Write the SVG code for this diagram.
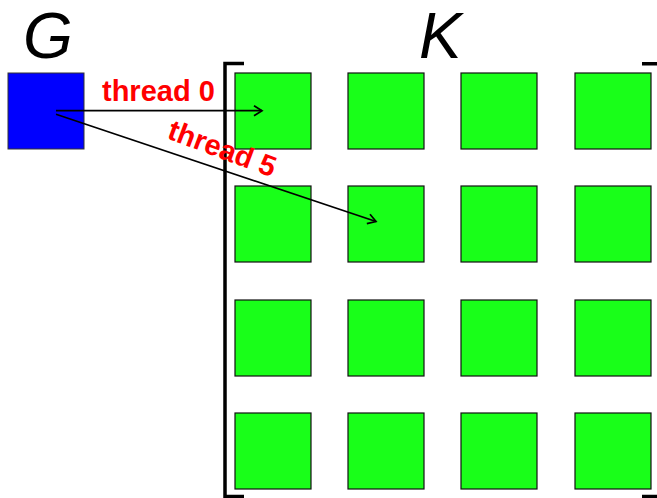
<svg xmlns="http://www.w3.org/2000/svg" width="657" height="498" viewBox="0 0 657 498">
<style>
.cell{fill:#19ff19;stroke:#111;stroke-width:1.2}
.src{fill:#0000ff;stroke:#333;stroke-width:1}
.big{font-family:"Liberation Sans",Arial,sans-serif;font-style:italic;font-size:64px;fill:#000}
.lbl{font-family:"Liberation Sans",Arial,sans-serif;font-weight:bold;font-size:29px;fill:#ff0000}
.br{fill:none;stroke:#000;stroke-width:3.5}
.conn{stroke:#000;stroke-width:1.7;fill:none}
</style>
<defs>
<marker id="arr" markerWidth="12" markerHeight="12" refX="10" refY="6" orient="auto" markerUnits="userSpaceOnUse">
<path d="M2,1 L10,6 L2,11" fill="none" stroke="#000" stroke-width="1.7"/>
</marker>
</defs>
<text class="big" x="23" y="57.5">G</text>
<text class="big" x="419" y="57.5">K</text>
<g id="bracket-left"><path class="br" d="M244,63.5 H225 V496.5 H244"/></g>
<g id="bracket-right"><path class="br" d="M642,63.8 H657 M642,496.5 H657"/></g>
<g id="G"><rect class="src" x="8" y="73" width="76" height="76"/></g>
<g id="K">
<rect id="k00" class="cell" x="235" y="73" width="76" height="76"/>
<rect id="k01" class="cell" x="348" y="73" width="76" height="76"/>
<rect id="k02" class="cell" x="461" y="73" width="76" height="76"/>
<rect id="k03" class="cell" x="575" y="73" width="76" height="76"/>
<rect id="k10" class="cell" x="235" y="186" width="76" height="76"/>
<rect id="k11" class="cell" x="348" y="186" width="76" height="76"/>
<rect id="k12" class="cell" x="461" y="186" width="76" height="76"/>
<rect id="k13" class="cell" x="575" y="186" width="76" height="76"/>
<rect id="k20" class="cell" x="235" y="300" width="76" height="76"/>
<rect id="k21" class="cell" x="348" y="300" width="76" height="76"/>
<rect id="k22" class="cell" x="461" y="300" width="76" height="76"/>
<rect id="k23" class="cell" x="575" y="300" width="76" height="76"/>
<rect id="k30" class="cell" x="235" y="413" width="76" height="76"/>
<rect id="k31" class="cell" x="348" y="413" width="76" height="76"/>
<rect id="k32" class="cell" x="461" y="413" width="76" height="76"/>
<rect id="k33" class="cell" x="575" y="413" width="76" height="76"/>
</g>
<g id="connectors">
<line class="conn" x1="56" y1="110.7" x2="262" y2="110.7" marker-end="url(#arr)"/>
<line class="conn" x1="56" y1="114.3" x2="376" y2="221.5" marker-end="url(#arr)"/>
</g>
<text class="lbl" x="102" y="100.5">thread 0</text>
<text class="lbl" transform="translate(166,138) rotate(20.5)">thread 5</text>
</svg>
